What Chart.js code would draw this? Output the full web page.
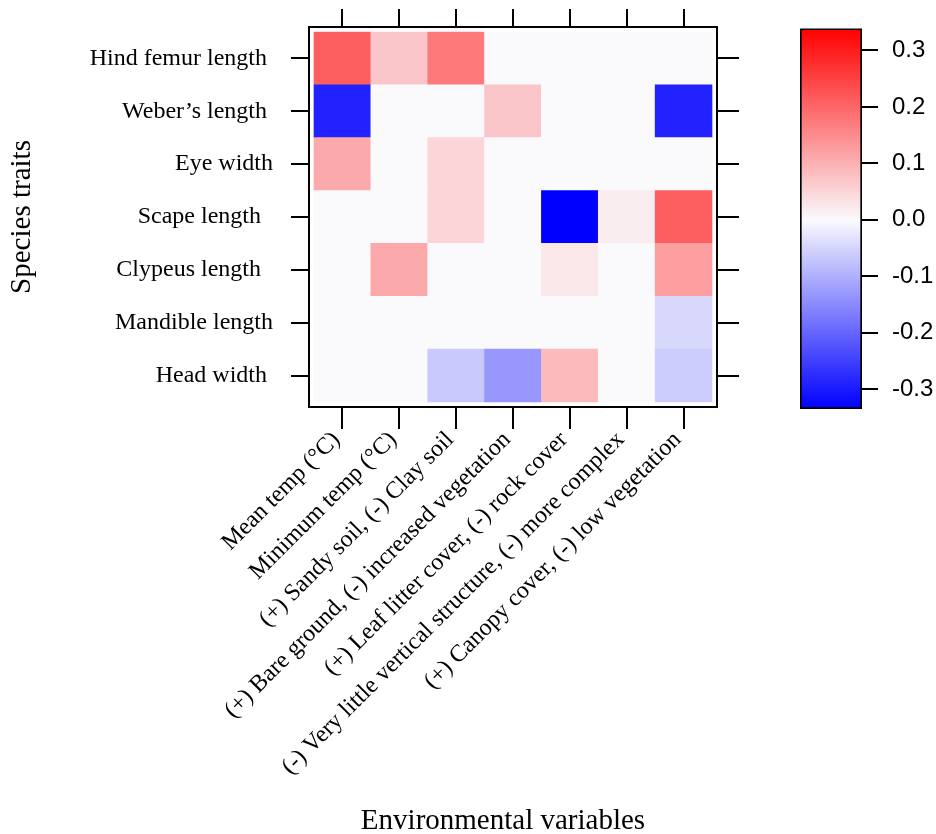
<!DOCTYPE html>
<html>
<head>
<meta charset="utf-8">
<title>Trait-environment correlations</title>
<script src="https://cdn.jsdelivr.net/npm/chart.js@4.4.0/dist/chart.umd.min.js"></script>
<style>
  body { margin: 0; background: #fff; }
  #wrap { position: relative; width: 936px; height: 834px; }
  #heat { position: absolute; left: 0; top: 0; }
  #key { position: absolute; left: 780px; top: 0; }
</style>
</head>
<body>
<div id="wrap">
  <canvas id="heat" width="936" height="834"></canvas>
  <canvas id="key" width="156" height="834"></canvas>
</div>
<script>
// species traits, top row first (trailing spaces as in the original labels)
const traits = [
  "Hind femur length ",
  "Weber\u2019s length ",
  "Eye width",
  "Scape length  ",
  "Clypeus length  ",
  "Mandible length",
  "Head width "
];

const envVars = [
  "Mean temp (\u00B0C)",
  "Minimum temp (\u00B0C)",
  "(+) Sandy soil, (-) Clay soil",
  "(+) Bare ground, (-) increased vegetation",
  "(+) Leaf litter cover, (-) rock cover",
  "(-) Very little vertical structure, (-) more complex",
  "(+) Canopy cover, (-) low vegetation"
];

// one value per environmental variable
const hindFemur = [0.21, 0.07, 0.175, 0, 0, 0, 0];
const weber = [-0.29, 0, 0, 0.07, 0, 0, -0.29];
const eyeWidth = [0.11, 0, 0.05, 0, 0, 0, 0];
const scape = [0, 0, 0.05, 0, -0.335, 0.017, 0.21];
const clypeus = [0, 0.11, 0, 0, 0.025, 0, 0.125];
const mandible = [0, 0, 0, 0, 0, 0, -0.045];
const headWidth = [0, 0, -0.066, -0.132, 0.086, 0, -0.06];

const keyTicks = [-0.3, -0.2, -0.1, 0, 0.1, 0.2, 0.3];
const keyMin = -0.335;
const keyMax = 0.339;

const rows = [hindFemur, weber, eyeWidth, scape, clypeus, mandible, headWidth];

const serif = "'Liberation Serif', 'Times New Roman', serif";
const sans = "'Liberation Sans', Arial, sans-serif";
const zeroCol = [250, 250, 253];

function cellColor(v) {
  const t = Math.min(v >= 0 ? v / keyMax : v / keyMin, 1);
  const end = v >= 0 ? [255, 0, 0] : [0, 0, 255];
  const c = zeroCol.map((z, i) => Math.round(z + (end[i] - z) * t));
  return "rgb(" + c.join(",") + ")";
}

// stacked from the bottom row up, each cell one unit high
const datasets = rows.slice().reverse().map((vals, i) => ({
  label: traits[rows.length - 1 - i],
  data: vals.map((v, c) => ({ x: c, y: 1 })),
  backgroundColor: vals.map(cellColor),
  borderWidth: 0,
  barPercentage: 1,
  categoryPercentage: 1,
}));

const tickGrid = (len) => ({
  drawOnChartArea: false,
  offset: false,
  tickLength: len,
  color: "#000",
  lineWidth: 2,
});
const frame = { display: true, color: "#000", width: 2 };

const colTicks = (axis) => { axis.ticks = envVars.map((_, i) => ({ value: i })); };
const rowTicks = (axis) => { axis.ticks = traits.map((_, i) => ({ value: i + 0.5 })); };

// fixed axis sizes; the row labels sit well inside the panel, so no extra edge padding
const fixWidth = (w) => (s) => { s.width = w; s.paddingTop = 0; s.paddingBottom = 0; };
const fixHeight = (h) => (s) => { s.height = h; };

// axis title below the rotated labels
const xTitle = {
  id: "xTitle",
  afterDraw(chart) {
    const c = chart.ctx;
    c.save();
    c.font = "29px " + serif;
    c.fillStyle = "#000";
    c.textAlign = "center";
    c.textBaseline = "alphabetic";
    c.fillText("Environmental variables", 503, 829);
    c.restore();
  },
};

new Chart(document.getElementById("heat"), {
  type: "bar",
  data: { datasets: datasets },
  plugins: [xTitle],
  options: {
    responsive: false,
    animation: false,
    layout: { padding: 0 },
    plugins: { legend: { display: false }, tooltip: { enabled: false } },
    scales: {
      x: {
        type: "linear",
        position: "bottom",
        min: -0.588,
        max: 6.588,
        offset: false,
        stacked: true,
        afterBuildTicks: colTicks,
        afterFit: fixHeight(427),
        ticks: {
          callback: (v) => envVars[v],
          autoSkip: false,
          minRotation: 45,
          maxRotation: 45,
          labelOffset: -6,
          padding: -3,
          color: "#000",
          font: { family: serif, size: 24 },
        },
        grid: tickGrid(22),
        border: frame,
      },
      x2: {
        type: "linear",
        position: "top",
        min: -0.588,
        max: 6.588,
        offset: false,
        afterBuildTicks: colTicks,
        afterFit: fixHeight(27),
        ticks: { display: false },
        grid: tickGrid(18),
        border: frame,
      },
      y: {
        type: "linear",
        position: "left",
        min: -0.094,
        max: 7.094,
        stacked: true,
        afterBuildTicks: rowTicks,
        afterFit: fixWidth(309),
        ticks: {
          callback: (v) => traits[rows.length - 1 - Math.floor(v)],
          padding: 18,
          color: "#000",
          font: { family: serif, size: 24 },
        },
        grid: tickGrid(18),
        border: frame,
        title: {
          display: true,
          text: "Species traits",
          color: "#000",
          font: { family: serif, size: 29 },
          padding: { top: 5, bottom: 0 },
        },
      },
      y2: {
        type: "linear",
        position: "right",
        min: -0.094,
        max: 7.094,
        afterBuildTicks: rowTicks,
        afterFit: fixWidth(219),
        ticks: { display: false },
        grid: tickGrid(22),
        border: frame,
      },
    },
  },
});

// colour key
new Chart(document.getElementById("key"), {
  type: "bar",
  data: {
    labels: [""],
    datasets: [{
      data: [[keyMin, keyMax]],
      backgroundColor: (ctx) => {
        const area = ctx.chart.chartArea;
        if (!area) return null;
        const g = ctx.chart.ctx.createLinearGradient(0, area.bottom, 0, area.top);
        g.addColorStop(0, "rgb(0,0,255)");
        g.addColorStop(-keyMin / (keyMax - keyMin), "rgb(" + zeroCol.join(",") + ")");
        g.addColorStop(1, "rgb(255,0,0)");
        return g;
      },
      borderColor: "#000",
      borderWidth: 2,
      borderSkipped: false,
      barPercentage: 1,
      categoryPercentage: 1,
    }],
  },
  options: {
    responsive: false,
    animation: false,
    layout: { padding: { left: 20, top: 27, bottom: 425, right: 0 } },
    plugins: { legend: { display: false }, tooltip: { enabled: false } },
    scales: {
      x: { display: false },
      y: {
        position: "right",
        min: keyMin,
        max: keyMax,
        afterBuildTicks: (axis) => { axis.ticks = keyTicks.map((v) => ({ value: v })); },
        afterFit: (s) => { s.width = 74; },
        ticks: {
          callback: (v) => v.toFixed(1),
          padding: 14,
          color: "#000",
          font: { family: sans, size: 24 },
        },
        grid: tickGrid(16),
        border: { display: false },
      },
    },
  },
});
</script>
</body>
</html>
